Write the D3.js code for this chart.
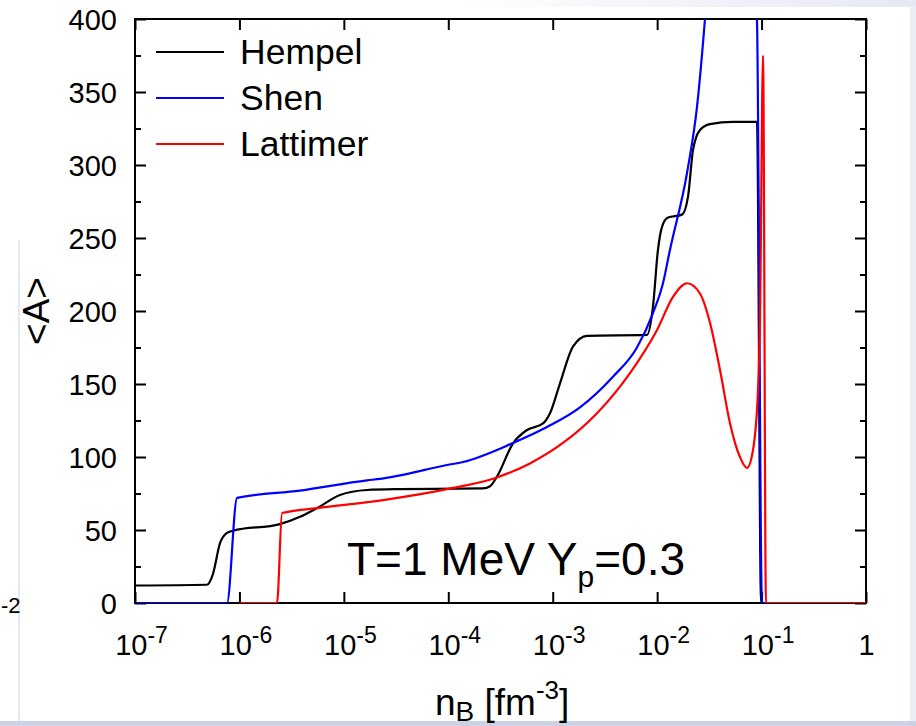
<!DOCTYPE html>
<html>
<head>
<meta charset="utf-8">
<script src="https://cdn.jsdelivr.net/npm/d3@7"></script>
<style>
  html, body { margin: 0; padding: 0; background: #fff; }
  svg { display: block; font-family: "Liberation Sans", Arial, Helvetica, sans-serif; }
</style>
</head>
<body>
<div id="chart"></div>
<script>
// <A> vs n_B at T=1 MeV, Yp=0.3 (x stored as log10 n_B)

const xTickExps = [-7, -6, -5, -4, -3, -2, -1, 0];
const yTicks = [0, 50, 100, 150, 200, 250, 300, 350, 400];
const yMinor = [25, 75, 125, 175, 225, 275, 325, 375];

const hempelLogN = [-7, -6.311, -6.253, -6.186, -6.119, -6.062, -5.612, -5.420, -5.257, -5.037, -4.778, -4.462, -3.668, -3.600,
  -3.534, -3.380, -3.246, -3.093, -3.026, -2.930, -2.806, -2.672, -2.097, -2.040, -1.992, -1.954, -1.896, -1.762,
  -1.705, -1.657, -1.590, -1.494, -1.274, -1.044, -1.005, 0];
const hempelA = [12, 12.5, 20, 41, 48, 49.5, 54, 59, 65, 74, 77.4, 78, 78.5, 80,
  86.5, 109.4, 118.5, 123, 130, 150.5, 175.6, 183, 183.6, 203, 242, 257.5, 264, 266,
  278, 310, 324, 328, 329.5, 329.5, 0, 0];

const shenLogN = [-7, -6.119, -6.023, -5.420, -4.778, -4.654, -4.012, -3.859, -3.380, -3.055, -2.739, -2.423, -2.193,
  -2.040, -1.944, -1.877, -1.714, -1.618, -1.542, -1.3, -1.044, -0.996, 0];
const shenA = [0, 0, 72, 77, 84, 85, 94.5, 96.6, 109.6, 120.5, 134, 155, 175,
  198.6, 219, 242, 294.5, 340, 400, 700, 400, 0, 0];

const lattimerLogN = [-6, -5.640, -5.592, -5.257, -4.625, -4.012, -3.534, -3.218, -2.902, -2.576, -2.260, -2.001,
  -1.848, -1.714, -1.590, -1.494, -1.398, -1.302, -1.207, -1.140, -1.082, -1.034, -1.015, -0.986, -0.958, 0];
const lattimerA = [0, 0, 61.6, 65, 70.5, 78, 86, 95.6, 109.6, 130, 157.5, 187,
  209.6, 219, 212, 192, 159.6, 123, 100, 92.5, 104.8, 146, 196, 375, 0, 0];

const seriesNames = ["Hempel", "Shen", "Lattimer"];
const seriesColors = ["#000000", "#0000ff", "#ff0000"];

const W = 916, H = 726;
const margin = { left: 135, right: 50, top: 19, bottom: 123 };

const svg = d3.select("#chart").append("svg").attr("width", W).attr("height", H);

// slide frame remnants around the picture
const defs = svg.append("defs");
const grad = defs.append("linearGradient").attr("id", "topband").attr("x1", 0).attr("x2", 1);
grad.append("stop").attr("offset", 0).attr("stop-color", "#ffffff");
grad.append("stop").attr("offset", 1).attr("stop-color", "#e6e8f4");
svg.append("rect").attr("x", 450).attr("y", 0).attr("width", W - 450).attr("height", 7).attr("fill", "url(#topband)");
svg.append("rect").attr("x", 910).attr("y", 7).attr("width", 6).attr("height", H - 7).attr("fill", "#eceef7");
svg.append("rect").attr("x", 18).attr("y", 240).attr("width", 2).attr("height", H - 240).attr("fill", "#e3e8f5");
svg.append("rect").attr("x", 0).attr("y", 721).attr("width", W).attr("height", 5).attr("fill", "#cdd2e6");
svg.append("text").attr("x", 1).attr("y", 613)
  .attr("font-size", 22).text("-2");

const x = d3.scaleLog().domain([1e-7, 1]).range([margin.left, W - margin.right]);
const y = d3.scaleLinear().domain([0, 400]).range([H - margin.bottom, margin.top]);

defs.append("clipPath").attr("id", "plotclip").append("rect")
  .attr("x", x.range()[0]).attr("y", y.range()[1])
  .attr("width", x.range()[1] - x.range()[0]).attr("height", y.range()[0] - y.range()[1]);

const decades = xTickExps.map(e => Math.pow(10, e));

function styleAxis(g) {
  g.select(".domain").remove();
  g.selectAll(".tick line").attr("stroke", "#000").attr("stroke-width", 2);
}

// bottom axis with superscript labels
const xAxisG = svg.append("g").attr("transform", `translate(0,${y(0)})`)
  .call(d3.axisBottom(x).tickValues(decades).tickSize(-11).tickSizeOuter(0).tickFormat(""))
  .call(styleAxis);
xAxisG.selectAll(".tick").each(function(d, i) {
  const e = xTickExps[i];
  const t = d3.select(this).append("text").attr("y", 52).attr("fill", "#000")
    .attr("text-anchor", "middle").attr("font-size", 29);
  if (e === 0) { t.text("1"); return; }
  t.attr("dx", 6);
  t.append("tspan").text("10");
  t.append("tspan").attr("font-size", 23).attr("dy", -12).text(String(e));
});

svg.append("g").attr("transform", `translate(0,${y(400)})`)
  .call(d3.axisTop(x).tickValues(decades).tickSize(-11).tickSizeOuter(0).tickFormat(""))
  .call(styleAxis);

// left / right axes
svg.append("g").attr("transform", `translate(${x(1e-7)},0)`)
  .call(d3.axisLeft(y).tickValues(yTicks).tickSize(-11).tickSizeOuter(0).tickPadding(18))
  .call(styleAxis)
  .call(g => g.selectAll("text").attr("font-size", 29).attr("fill", "#000").attr("dy", "0.36em"));
svg.append("g").attr("transform", `translate(${x(1e-7)},0)`)
  .call(d3.axisLeft(y).tickValues(yMinor).tickSize(-6).tickFormat(""))
  .call(styleAxis);
svg.append("g").attr("transform", `translate(${x(1)},0)`)
  .call(d3.axisRight(y).tickValues(yTicks).tickSize(-11).tickFormat(""))
  .call(styleAxis);
svg.append("g").attr("transform", `translate(${x(1)},0)`)
  .call(d3.axisRight(y).tickValues(yMinor).tickSize(-6).tickFormat(""))
  .call(styleAxis);

// frame
svg.append("rect")
  .attr("x", x.range()[0]).attr("y", y.range()[1])
  .attr("width", x.range()[1] - x.range()[0]).attr("height", y.range()[0] - y.range()[1])
  .attr("fill", "none").attr("stroke", "#000").attr("stroke-width", 2);

// curves
const line = d3.line().curve(d3.curveMonotoneX)
  .x(d => x(Math.pow(10, d[0]))).y(d => y(d[1]));
const seriesData = [
  d3.zip(hempelLogN, hempelA),
  d3.zip(shenLogN, shenA),
  d3.zip(lattimerLogN, lattimerA)
];
const plot = svg.append("g").attr("clip-path", "url(#plotclip)");
seriesData.forEach((pts, i) => {
  plot.append("path").datum(pts).attr("d", line)
    .attr("fill", "none").attr("stroke", seriesColors[i])
    .attr("stroke-width", 2.2).attr("stroke-linejoin", "round");
});

// legend
const legend = svg.append("g");
seriesNames.forEach((name, i) => {
  const ly = 52 + i * 46;
  legend.append("line").attr("x1", 156).attr("x2", 224).attr("y1", ly).attr("y2", ly)
    .attr("stroke", seriesColors[i]).attr("stroke-width", 2);
  legend.append("text").attr("x", 240).attr("y", ly).attr("dy", "0.35em")
    .attr("font-size", 35.5).attr("fill", "#000").text(name);
});

// annotation
const ann = svg.append("text").attr("x", 347).attr("y", 575).attr("font-size", 46).attr("fill", "#000");
ann.append("tspan").text("T=1 MeV Y");
ann.append("tspan").attr("font-size", 30).attr("dy", 12).text("p");
ann.append("tspan").attr("dy", -12).text("=0.3");

// axis titles
const xt = svg.append("text").attr("x", 435).attr("y", 715).attr("font-size", 37).attr("fill", "#000");
xt.append("tspan").text("n");
xt.append("tspan").attr("font-size", 28).attr("dy", 6).text("B");
xt.append("tspan").attr("dy", -6).text(" [fm");
xt.append("tspan").attr("font-size", 26).attr("dy", -16).text("-3");
xt.append("tspan").attr("dy", 16).text("]");

svg.append("text").attr("transform", "translate(49,311) rotate(-90)")
  .attr("text-anchor", "middle").attr("font-size", 37).attr("fill", "#000").text("<A>");
</script>
</body>
</html>
